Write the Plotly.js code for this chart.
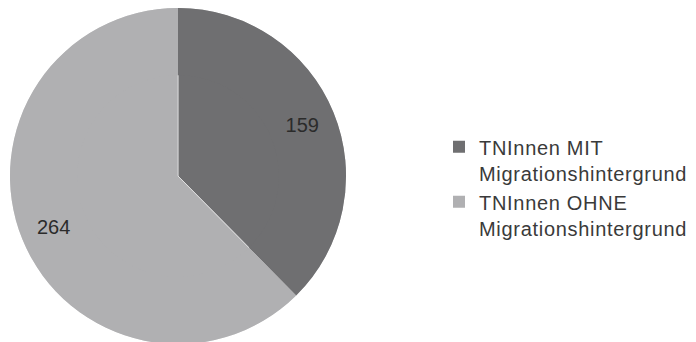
<!DOCTYPE html>
<html>
<head>
<meta charset="utf-8">
<script src="https://cdn.plot.ly/plotly-3.0.1.min.js"></script>
<style>
html, body { margin: 0; padding: 0; overflow: hidden; background: #ffffff; }
#chart { width: 696px; height: 344px; }
.legendtext { letter-spacing: 0.7px; }
</style>
</head>
<body>
<div id="chart"></div>
<script>
const categories = ["TNInnen MIT<br>Migrationshintergrund", "TNInnen OHNE<br>Migrationshintergrund"];
const values = [159, 264];
const colors = ["#6f6f71", "#b0b0b2"];

const domain = { x: [10 / 696, 346 / 696], y: [0, 1] };
const common = {
  type: "pie",
  labels: categories,
  values: values,
  sort: false,
  direction: "clockwise",
  rotation: 0,
  domain: domain,
  marker: { colors: colors, line: { color: "#ffffff", width: 0.5 } }
};

// full pie underneath (fills the centre)
const base = Object.assign({}, common, {
  textinfo: "none",
  showlegend: false,
  hoverinfo: "skip"
});

// ring on top carrying the value labels in the outer part of the slices
const ring = Object.assign({}, common, {
  hole: 0.6,
  marker: { colors: colors, line: { color: "rgba(0,0,0,0)", width: 0 } },
  textinfo: "value",
  textposition: "inside",
  insidetextorientation: "horizontal",
  textfont: { family: "Liberation Sans, Arial, sans-serif", size: 20, color: "#2b2b2b" },
  hoverinfo: "label+value"
});

const layout = {
  width: 696,
  height: 344,
  margin: { l: 0, r: 0, t: 8, b: 0 },
  paper_bgcolor: "#ffffff",
  plot_bgcolor: "#ffffff",
  showlegend: true,
  legend: {
    x: 439 / 696,
    xanchor: "left",
    y: 0.645,
    yanchor: "top",
    valign: "top",
    font: { family: "Liberation Sans, Arial, sans-serif", size: 20, color: "#3a3a3a" },
    bgcolor: "rgba(0,0,0,0)"
  }
};

Plotly.newPlot("chart", [base, ring], layout, { staticPlot: true });
</script>
</body>
</html>
